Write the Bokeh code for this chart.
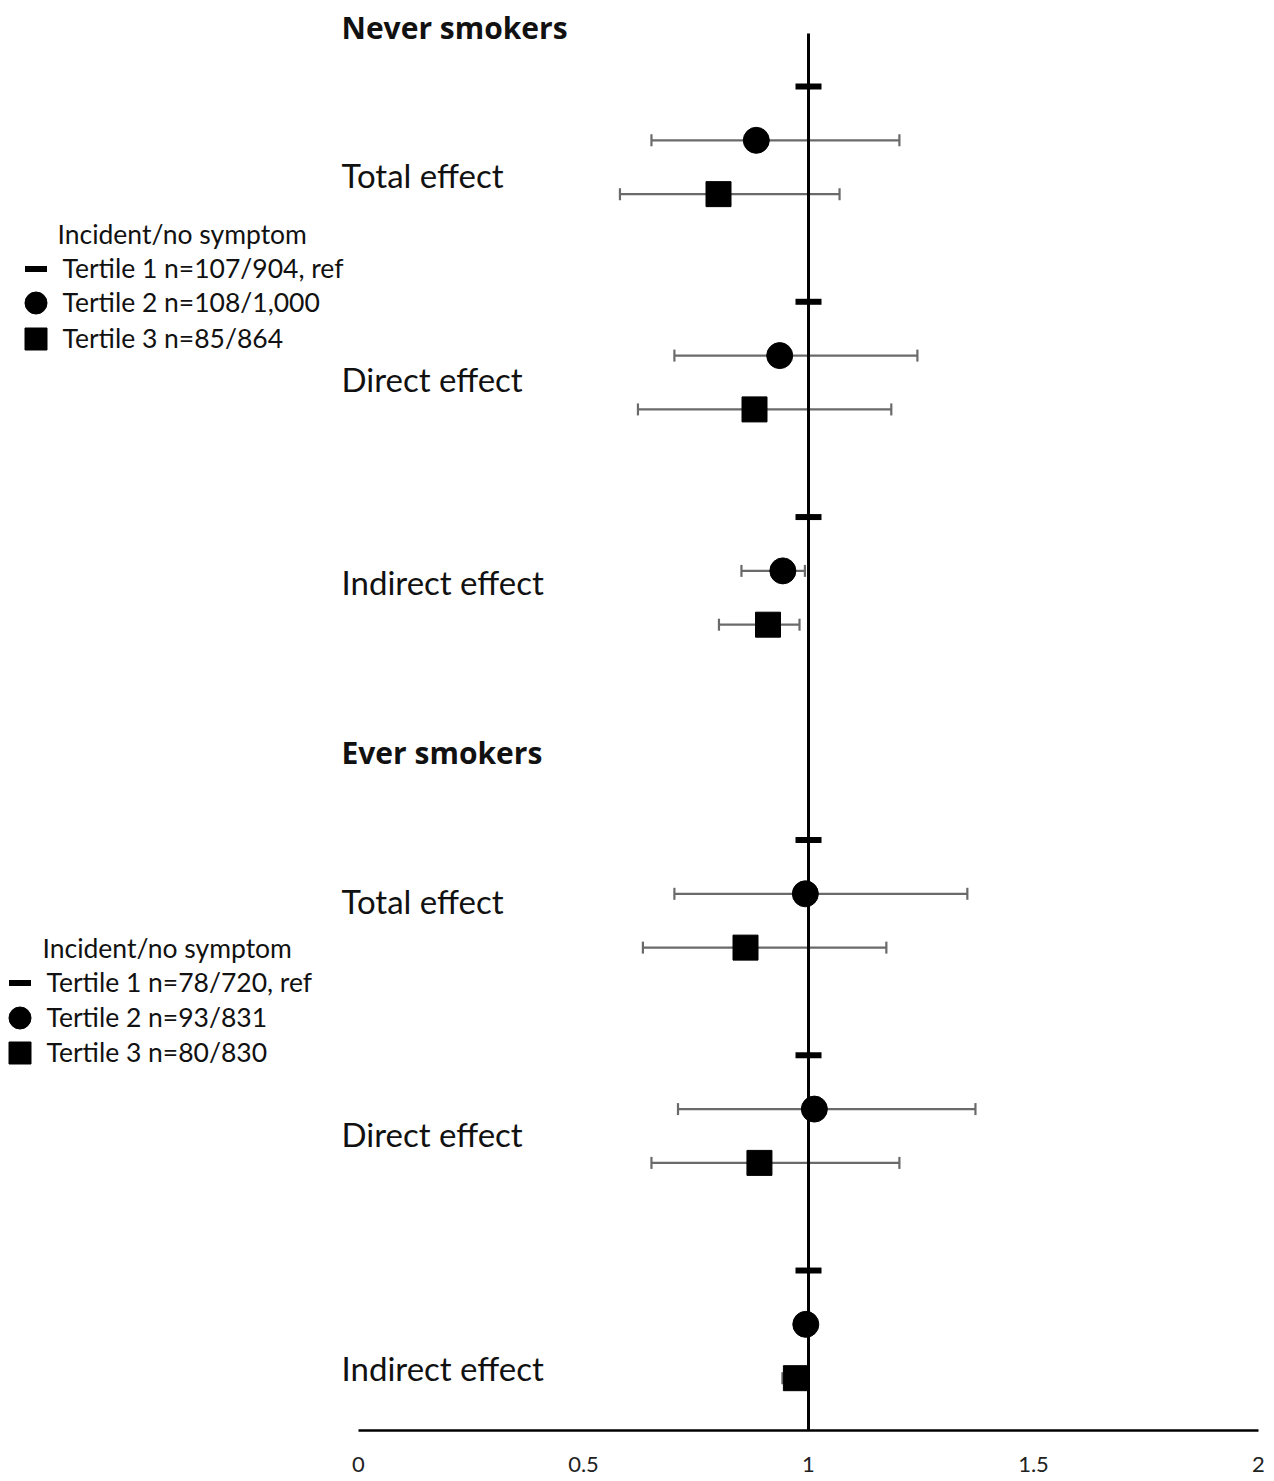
from bokeh.plotting import figure
from bokeh.models import (ColumnDataSource, Range1d, Whisker, TeeHead,
                          Legend, LegendItem, FixedTicker)
from bokeh.core.properties import value
from bokeh.embed import file_html
from bokeh.resources import INLINE

# ---------------- data ----------------
effects = ["Total effect", "Direct effect", "Indirect effect"]
smoking_groups = ["Never smokers", "Ever smokers"]

REF_HR = 1.0
ref_hr = [1.0, 1.0, 1.0]

never_t2 = [0.884, 0.936, 0.943]
never_t2_lo = [0.651, 0.702, 0.851]
never_t2_hi = [1.202, 1.242, 0.992]
never_t3 = [0.800, 0.880, 0.910]
never_t3_lo = [0.581, 0.621, 0.801]
never_t3_hi = [1.069, 1.184, 0.980]

ever_t2 = [0.993, 1.013, 0.994]
ever_t2_lo = [0.702, 0.710, 0.975]
ever_t2_hi = [1.353, 1.371, 1.012]
ever_t3 = [0.860, 0.891, 0.972]
ever_t3_lo = [0.632, 0.651, 0.942]
ever_t3_hi = [1.173, 1.202, 0.990]

never_legend = ["Tertile 1 n=107/904, ref", "Tertile 2 n=108/1,000", "Tertile 3 n=85/864"]
ever_legend = ["Tertile 1 n=78/720, ref", "Tertile 2 n=93/831", "Tertile 3 n=80/830"]
legend_title = "Incident/no symptom"

x_ticks = [0, 0.5, 1, 1.5, 2]
x_tick_labels = ["0", "0.5", "1", "1.5", "2"]

# ---------------- layout ----------------
PX_X = 450.0          # px per x unit
X0_PX = 358.0         # canvas px of x = 0
ROW_PX = 53.82        # px per row
ROW0_PX = 86.0        # canvas px of row 0
AXIS_PX = 1430.0      # canvas px of x axis
W, H = 1270, 1481

def ydat(px):
    return (px - ROW0_PX) / ROW_PX

def xdat(px):
    return (px - X0_PX) / PX_X

never_base = [0, 4, 8]
ever_base = [14, 18, 22]
never_label_off = [1.65, 1.43, 1.20]
ever_label_off = [1.13, 1.46, 1.81]

FONT = "Lato"
ERR_COLOR = "#6a6a6a"

p = figure(width=W, height=H,
           x_range=Range1d(xdat(0), xdat(W)), y_range=Range1d(ydat(AXIS_PX), ydat(0)),
           output_backend="svg", toolbar_location=None,
           min_border_left=0, min_border_right=0, min_border_top=0,
           min_border_bottom=int(H - AXIS_PX),
           y_axis_location=None)
p.grid.visible = False
p.outline_line_color = None
p.background_fill_color = "white"

# x axis
ax = p.xaxis[0]
ax.bounds = (0, 2)
ax.ticker = FixedTicker(ticks=x_ticks)
ax.major_label_overrides = {t: l for t, l in zip(x_ticks, x_tick_labels)}
ax.axis_line_color = "black"
ax.axis_line_width = 2.5
ax.major_tick_line_color = None
ax.minor_tick_line_color = None
ax.major_tick_out = 0
ax.major_tick_in = 0
ax.major_label_standoff = 26
ax.major_label_text_font = FONT
ax.major_label_text_font_size = "22px"
ax.major_label_text_color = "#222222"

# reference line at HR = 1 (from top of plotting area down to the axis)
p.segment(x0=[REF_HR], y0=[ydat(33)], x1=[REF_HR], y1=[ydat(AXIS_PX)],
          line_color="black", line_width=3)

renderers = []
for base, t2, t2lo, t2hi, t3, t3lo, t3hi, off in [
        (never_base, never_t2, never_t2_lo, never_t2_hi, never_t3, never_t3_lo, never_t3_hi, never_label_off),
        (ever_base, ever_t2, ever_t2_lo, ever_t2_hi, ever_t3, ever_t3_lo, ever_t3_hi, ever_label_off)]:
    src_ref = ColumnDataSource(dict(x=ref_hr, y=[b for b in base]))
    src_t2 = ColumnDataSource(dict(x=t2, y=[b + 1 for b in base], lo=t2lo, hi=t2hi))
    src_t3 = ColumnDataSource(dict(x=t3, y=[b + 2 for b in base], lo=t3lo, hi=t3hi))
    for src in (src_t2, src_t3):
        w = Whisker(source=src, base="y", lower="lo", upper="hi", dimension="width",
                    line_color=ERR_COLOR, line_width=2.2, level="underlay",
                    lower_head=TeeHead(size=12, line_color=ERR_COLOR, line_width=2.2),
                    upper_head=TeeHead(size=12, line_color=ERR_COLOR, line_width=2.2))
        p.add_layout(w)
    r_ref = p.scatter("x", "y", source=src_ref, marker="dash", size=26, line_width=6,
                      line_color="black")
    r_t2 = p.scatter("x", "y", source=src_t2, marker="circle", size=26,
                     fill_color="black", line_color="black")
    r_t3 = p.scatter("x", "y", source=src_t3, marker="square", size=25,
                     fill_color="black", line_color="black")
    lab_src = ColumnDataSource(dict(x=[xdat(341)] * 3, y=[b + o for b, o in zip(base, off)], t=effects))
    p.text("x", "y", text="t", source=lab_src, text_font=value(FONT), text_font_size="33px",
           text_baseline="middle", text_align="left", text_color="#111111")
    renderers.append((r_ref, r_t2, r_t3))

# headings
head_src = ColumnDataSource(dict(x=[xdat(341)] * 2, y=[ydat(27), ydat(752)], t=smoking_groups))
p.text("x", "y", text="t", source=head_src, text_font=value("Open Sans"), text_font_size="30px",
       text_font_style="bold", text_baseline="middle", text_align="left", text_color="#111111")

# legends: one single-item legend per row so the rows can sit close together
GLYPH = 55
title_x, title_y = [], []
for rr, lbls, xc, rows_px, tpos in [
        (renderers[0], never_legend, 35, [268, 302, 338], (57, 233)),
        (renderers[1], ever_legend, 19, [982, 1017, 1052], (42, 947))]:
    for r, l, yc in zip(rr, lbls, rows_px):
        lg = Legend(items=[LegendItem(label=l, renderers=[r])],
                    location=(xc - GLYPH / 2, AXIS_PX - yc - GLYPH / 2),
                    glyph_width=GLYPH, glyph_height=GLYPH, spacing=0,
                    label_standoff=0, padding=0, margin=0, border_line_color=None,
                    background_fill_alpha=0, label_text_font=FONT,
                    label_text_font_size="26.5px", label_text_color="#111111",
                    label_text_baseline="middle")
        p.add_layout(lg)
    title_x.append(xdat(tpos[0]))
    title_y.append(ydat(tpos[1]))

title_src = ColumnDataSource(dict(x=title_x, y=title_y, t=[legend_title] * 2))
p.text("x", "y", text="t", source=title_src, text_font=value(FONT), text_font_size="26.5px",
       text_baseline="middle", text_align="left", text_color="#111111")

open("out.html", "w").write(file_html(p, INLINE))
